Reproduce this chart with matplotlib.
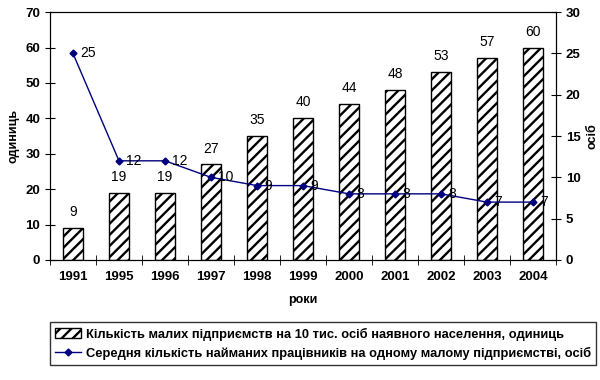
import matplotlib.pyplot as plt
import numpy as np

plt.rcParams['font.family'] = ['Liberation Sans', 'DejaVu Sans']
plt.rcParams['hatch.linewidth'] = 1.7

years = ['1991', '1995', '1996', '1997', '1998', '1999', '2000', '2001', '2002', '2003', '2004']
enterprises = [9, 19, 19, 27, 35, 40, 44, 48, 53, 57, 60]
workers = [25, 12, 12, 10, 9, 9, 8, 8, 8, 7, 7]

bar_label = 'Кількість малих підприємств на 10 тис. осіб наявного населення, одиниць'
line_label = 'Середня кількість найманих працівників на одному малому підприємстві, осіб'

fig = plt.figure(figsize=(6, 3.8), dpi=100)
ax = fig.add_axes([0.0833, 0.316, 0.8434, 0.652])
ax2 = ax.twinx()

x = np.arange(len(years))
bars = ax.bar(x, enterprises, width=0.42, color='white', edgecolor='black',
              hatch='///', linewidth=1.0)
for xi, v in zip(x, enterprises):
    ax.text(xi, v + 2.5, str(v), ha='center', va='bottom', fontsize=10)

line, = ax2.plot(x, workers, color='#000080', marker='D', markersize=3.5, linewidth=1.0)
for xi, v in zip(x, workers):
    ax2.text(xi + 0.15, v, str(v), ha='left', va='center', fontsize=10)

ax.set_xlim(-0.5, len(years) - 0.5)
ax.set_ylim(0, 70)
ax.set_yticks(range(0, 71, 10))
ax2.set_ylim(0, 30)
ax2.set_yticks(range(0, 31, 5))
ax.set_xticks(x)
ax.set_xticklabels(years)
ax.set_xticks(np.arange(-0.5, len(years), 1), minor=True)
ax.tick_params(axis='x', which='major', length=0, pad=8)
ax.tick_params(axis='x', which='minor', direction='inout', length=7)
ax.tick_params(axis='y', direction='inout', length=7)
ax2.tick_params(axis='y', direction='inout', length=7)

for a in (ax, ax2):
    for lbl in a.get_xticklabels() + a.get_yticklabels():
        lbl.set_fontweight('bold')
        lbl.set_fontsize(9.5)

ax.set_xlabel('роки', fontsize=9, fontweight='bold', labelpad=8)
ax.set_ylabel('одиниць', fontsize=9, fontweight='bold', labelpad=4)
ax2.set_ylabel('осіб', fontsize=9, fontweight='bold', labelpad=4)

leg = fig.legend([bars, line], [bar_label, line_label], loc='lower left',
                 bbox_to_anchor=(0.072, 0.022), frameon=True, fancybox=False,
                 edgecolor='black', prop={'weight': 'bold', 'size': 9.3},
                 handlelength=2.0, handletextpad=0.4, borderpad=0.4, labelspacing=0.5)
leg.get_frame().set_linewidth(1.0)

fig.savefig('out.png', dpi=100)
